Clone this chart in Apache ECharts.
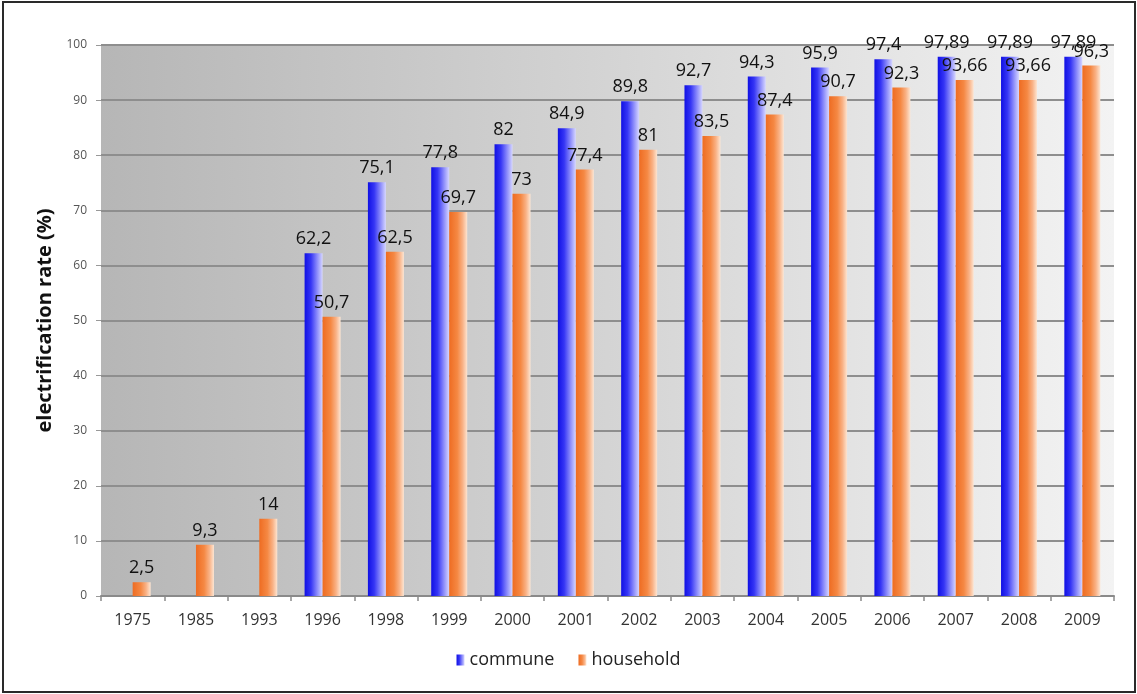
<!DOCTYPE html>
<html>
<head>
<meta charset="utf-8">
<script src="https://cdn.jsdelivr.net/npm/echarts@6/dist/echarts.min.js"></script>
<style>
  html, body { margin: 0; padding: 0; background: #fff; }
  #frame { position: absolute; left: 2px; top: 1px; width: 1134px; height: 692px; box-sizing: border-box; border: 2px solid #2a2a2a; }
  #chart { position: absolute; left: 0; top: 0; width: 1137px; height: 694px; }
</style>
</head>
<body>
<div id="chart"></div>
<div id="frame"></div>
<script>
// Electrification rate by year
const years = ['1975','1985','1993','1996','1998','1999','2000','2001','2002','2003','2004','2005','2006','2007','2008','2009'];
const commune = [null, null, null, 62.2, 75.1, 77.8, 82, 84.9, 89.8, 92.7, 94.3, 95.9, 97.4, 97.89, 97.89, 97.89];
const household = [2.5, 9.3, 14, 50.7, 62.5, 69.7, 73, 77.4, 81, 83.5, 87.4, 90.7, 92.3, 93.66, 93.66, 96.3];
const yTicks = [0, 10, 20, 30, 40, 50, 60, 70, 80, 90, 100];

const FONT = '"Open Sans", "Noto Sans", sans-serif';

function hGrad(stops) {
  return new echarts.graphic.LinearGradient(0, 0, 1, 0,
    stops.map(function (s) { return { offset: s[0], color: s[1] }; }));
}
const blueFill = hGrad([[0, '#1010e4'], [0.35, '#3535f5'], [0.7, '#8c8cfb'], [1, '#d6d6ff']]);
const orangeFill = hGrad([[0, '#ee6c22'], [0.45, '#f58843'], [0.75, '#f9b286'], [1, '#fde5d2']]);

const valueLabel = {
  show: true,
  position: 'top',
  distance: 5,
  color: '#111',
  fontFamily: FONT,
  fontSize: 18,
  formatter: function (p) { return String(p.value).replace('.', ','); }
};

const chart = echarts.init(document.getElementById('chart'), null, { renderer: 'canvas' });
chart.setOption({
  animation: false,
  backgroundColor: '#fff',
  grid: {
    left: 101, right: 23, top: 45, bottom: 98,
    show: true,
    borderWidth: 0,
    backgroundColor: new echarts.graphic.LinearGradient(0, 0, 1, 0, [
      { offset: 0, color: '#b6b6b6' },
      { offset: 0.5, color: '#d4d4d4' },
      { offset: 1, color: '#f3f3f3' }
    ])
  },
  legend: {
    bottom: 20,
    left: 'center',
    itemWidth: 8,
    itemHeight: 11,
    itemGap: 24,
    icon: 'rect',
    textStyle: { fontFamily: FONT, fontSize: 18, color: '#222' },
    data: ['commune', 'household']
  },
  xAxis: {
    type: 'category',
    data: years,
    boundaryGap: true,
    axisLine: { show: true, lineStyle: { color: '#8a8a8a', width: 2 } },
    axisTick: { show: true, length: 5, lineStyle: { color: '#8a8a8a', width: 1.5 } },
    axisLabel: { margin: 16, color: '#333', fontFamily: FONT, fontSize: 16 }
  },
  yAxis: {
    type: 'value',
    min: yTicks[0],
    max: yTicks[yTicks.length - 1],
    interval: 10,
    name: 'electrification rate (%)',
    nameLocation: 'middle',
    nameGap: 46,
    nameTextStyle: { fontFamily: FONT, fontSize: 20, fontWeight: 'bold', color: '#111' },
    axisLine: { show: false },
    axisTick: { show: true, length: 5, lineStyle: { color: '#999', width: 1 } },
    axisLabel: { margin: 14, color: '#555', fontFamily: FONT, fontSize: 12 },
    splitLine: { show: true, lineStyle: { color: '#8e8e8e', width: 2 } }
  },
  series: [
    {
      name: 'commune',
      type: 'bar',
      data: commune,
      barWidth: 18,
      barGap: '0%',
      itemStyle: { color: blueFill },
      label: valueLabel
    },
    {
      name: 'household',
      type: 'bar',
      data: household,
      barWidth: 18,
      barGap: '0%',
      itemStyle: { color: orangeFill },
      label: valueLabel
    }
  ]
});
</script>
</body>
</html>
